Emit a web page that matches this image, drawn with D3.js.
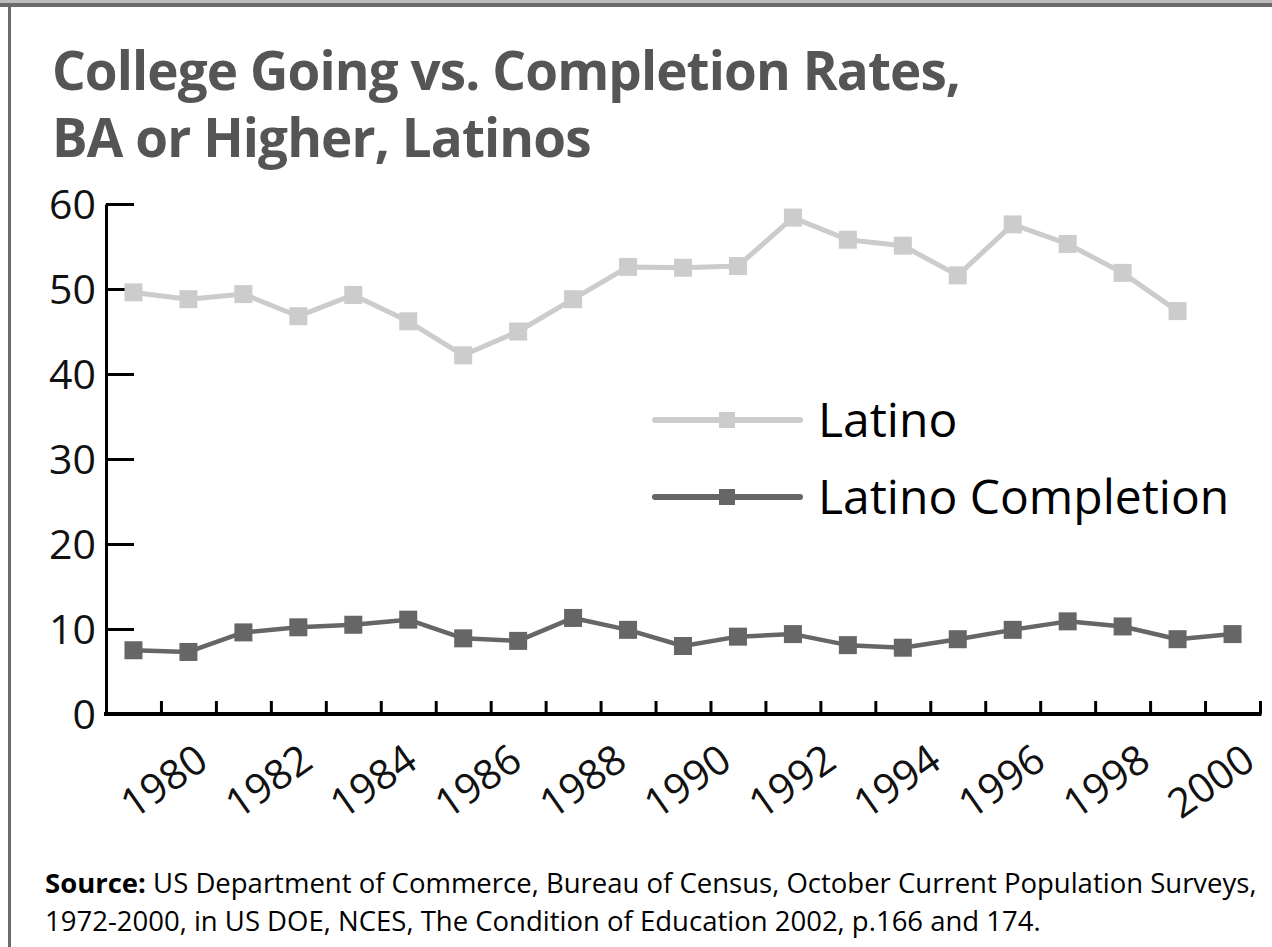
<!DOCTYPE html>
<html>
<head>
<meta charset="utf-8">
<script src="https://cdn.jsdelivr.net/npm/d3@7"></script>
<style>
  html, body { margin: 0; padding: 0; background: #fff; }
  svg { display: block; }
</style>
</head>
<body>
<svg id="chart" width="1272" height="947"></svg>
<script>
// ---- data ----
const years = [1980, 1981, 1982, 1983, 1984, 1985, 1986, 1987, 1988, 1989, 1990,
               1991, 1992, 1993, 1994, 1995, 1996, 1997, 1998, 1999, 2000];
const latino = [49.6, 48.8, 49.4, 46.8, 49.3, 46.2, 42.2, 45.0, 48.8, 52.6, 52.5,
                52.7, 58.4, 55.8, 55.1, 51.6, 57.6, 55.3, 51.9, 47.4, null];
const completion = [7.5, 7.3, 9.6, 10.2, 10.5, 11.1, 8.9, 8.6, 11.3, 9.9, 8.0,
                    9.1, 9.4, 8.1, 7.8, 8.8, 9.9, 10.9, 10.3, 8.8, 9.4];
const yTicks = [0, 10, 20, 30, 40, 50, 60];
const xLabels = ["1980", "1982", "1984", "1986", "1988", "1990",
                 "1992", "1994", "1996", "1998", "2000"];
const seriesNames = ["Latino", "Latino Completion"];
const titleLines = ["College Going vs. Completion Rates,", "BA or Higher, Latinos"];
const sourceBold = "Source:";
const sourceLine1 = " US Department of Commerce, Bureau of Census, October Current Population Surveys,";
const sourceLine2 = "1972-2000, in US DOE, NCES, The Condition of Education 2002, p.166 and 174.";

(function () {
// ---- layout ----
const svg = d3.select("#chart");
const W = 1272, H = 947;
const pLeft = 106, pRight = 1260, pTop = 204, pBottom = 714;
const colLatino = "#cccccc", colComp = "#666666";
const font = "'Open Sans', 'Noto Sans', sans-serif";

// frame
svg.append("rect").attr("x", 0).attr("y", 0).attr("width", W).attr("height", 3).attr("fill", "#bdbdbd");
svg.append("rect").attr("x", 0).attr("y", 3).attr("width", W).attr("height", 4).attr("fill", "#6a6a6a");
svg.append("rect").attr("x", 8).attr("y", 3).attr("width", 3).attr("height", H).attr("fill", "#6a6a6a");

// title
svg.append("g").selectAll("text").data(titleLines).join("text")
  .attr("x", 52).attr("y", (d, i) => 90 + i * 67)
  .attr("font-family", font).attr("font-weight", 700).attr("font-size", 53)
  .attr("letter-spacing", -0.9)
  .attr("fill", "#555555").text(d => d);

// scales
const x = d3.scaleBand().domain(years).range([pLeft, pRight]).padding(0);
const y = d3.scaleLinear().domain([0, 60]).range([pBottom, pTop]);
const xb = d3.scaleLinear().domain([0, years.length]).range([pLeft, pRight]);
const xl = d3.scalePoint().domain(xLabels)
  .range([x(years[1]) + x.bandwidth() / 2 + 13, x(years[20]) + x.bandwidth() / 2 + 16]);

// y axis
const gy = svg.append("g").attr("transform", `translate(${pLeft},0)`)
  .call(d3.axisLeft(y).tickValues(yTicks).tickSizeInner(-28).tickSizeOuter(0).tickPadding(10));
gy.select(".domain").attr("stroke", "#000").attr("stroke-width", 3);
gy.selectAll(".tick line").attr("stroke", "#000").attr("stroke-width", 3);
gy.selectAll(".tick text").attr("font-family", font).attr("font-size", 41)
  .attr("font-weight", 400).attr("fill", "#111").attr("dy", "0.36em");

// x axis (ticks at category boundaries)
const gx = svg.append("g").attr("transform", `translate(0,${pBottom})`)
  .call(d3.axisBottom(xb).tickValues(d3.range(1, years.length + 1)).tickSizeInner(-13)
    .tickSizeOuter(0).tickFormat(""));
gx.select(".domain").attr("stroke", "#000").attr("stroke-width", 4).attr("d", `M${pLeft - 2},0H${pRight + 1.5}`);
gx.selectAll(".tick line").attr("stroke", "#000").attr("stroke-width", 3);

// x labels
const gl = svg.append("g").attr("transform", `translate(0,${pBottom + 40})`)
  .call(d3.axisBottom(xl).tickSize(0).tickPadding(0));
gl.select(".domain").remove();
gl.selectAll(".tick text")
  .attr("font-family", font).attr("font-size", 41).attr("font-weight", 400).attr("fill", "#111")
  .attr("text-anchor", "end").attr("y", 0).attr("dy", "0.36em")
  .attr("transform", "rotate(-35)");

// lines
const cx = d => x(d) + x.bandwidth() / 2;
const series = [
  { name: seriesNames[0], values: latino, color: colLatino, width: 5 },
  { name: seriesNames[1], values: completion, color: colComp, width: 4.5 }
];
const line = d3.line().defined(d => d.v != null).x(d => cx(d.year)).y(d => y(d.v));
const ms = 18;
series.forEach(s => {
  const pts = years.map((yr, i) => ({ year: yr, v: s.values[i] }));
  svg.append("path").datum(pts).attr("d", line).attr("fill", "none")
    .attr("stroke", s.color).attr("stroke-width", s.width).attr("stroke-linejoin", "round");
  svg.append("g").selectAll("rect").data(pts.filter(d => d.v != null)).join("rect")
    .attr("x", d => cx(d.year) - ms / 2).attr("y", d => y(d.v) - ms / 2)
    .attr("width", ms).attr("height", ms).attr("fill", s.color);
});

// legend
const lg = svg.append("g");
series.forEach((s, i) => {
  const ly = 420 + i * 77;
  lg.append("line").attr("x1", 655).attr("x2", 800).attr("y1", ly).attr("y2", ly)
    .attr("stroke", s.color).attr("stroke-width", 6).attr("stroke-linecap", "round");
  lg.append("rect").attr("x", 727 - 8).attr("y", ly - 8).attr("width", 16).attr("height", 16).attr("fill", s.color);
  lg.append("text").attr("x", 818).attr("y", ly).attr("dy", "0.36em")
    .attr("font-family", font).attr("font-size", 48).attr("fill", "#000").text(s.name);
});

// source
const src = svg.append("g").attr("font-family", font).attr("font-size", 27.5).attr("fill", "#000");
const t1 = src.append("text").attr("x", 45).attr("y", 893);
t1.append("tspan").attr("font-weight", 700).text(sourceBold);
t1.append("tspan").text(sourceLine1);
src.append("text").attr("x", 45).attr("y", 931).text(sourceLine2);
})();
</script>
</body>
</html>
